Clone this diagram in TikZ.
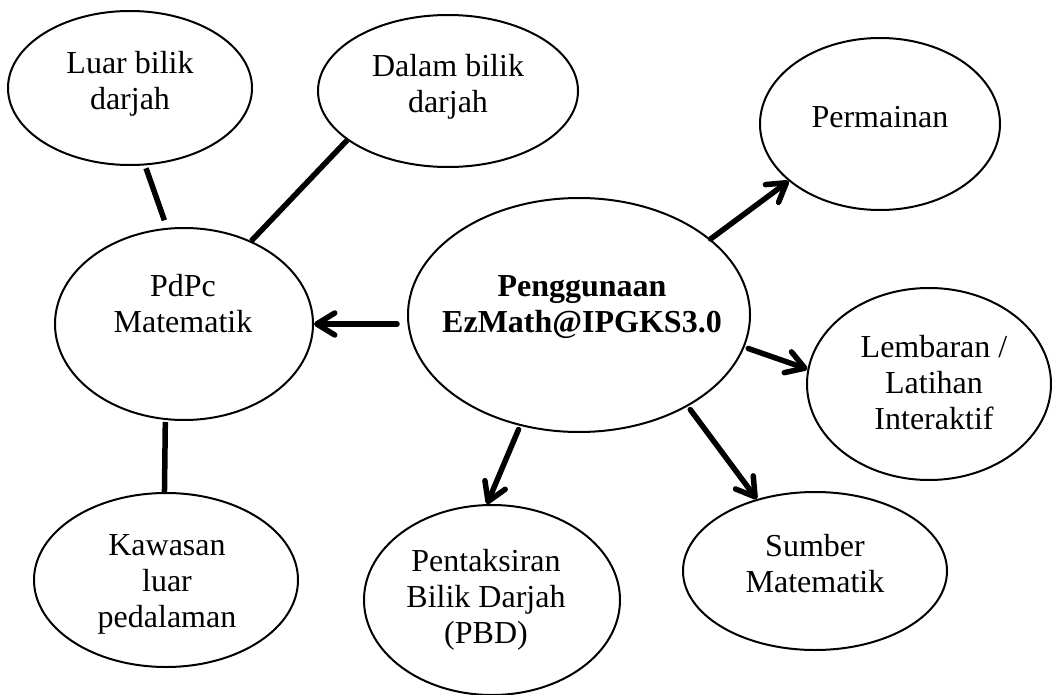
\documentclass[tikz,border=0pt]{standalone}
\usepackage{fontspec}
\setmainfont{Liberation Serif}
\usetikzlibrary{shapes.geometric,arrows.meta}
\begin{document}
\begin{tikzpicture}[x=1pt,y=-1pt,
  bub/.style={draw,ellipse,line width=2pt,inner sep=0pt},
  txt/.style={align=center,font=\fontsize{32}{36}\selectfont,inner sep=0pt},
  link/.style={line width=5.5pt},
  arr/.style={line width=5.5pt,line cap=round,-{Straight Barb[length=18pt,width=22pt,round]}}]
\useasboundingbox (0,0) rectangle (1052,695);
% ellipses
\node[bub,minimum width=244pt,minimum height=154pt] (luar) at (130,88) {};
\node[bub,minimum width=260pt,minimum height=152pt] (dalam) at (448,91) {};
\node[bub,minimum width=240pt,minimum height=172pt] (perm) at (880,124) {};
\node[bub,minimum width=258pt,minimum height=192pt] (pdpc) at (184,324) {};
\node[bub,minimum width=342pt,minimum height=234pt] (pen) at (579,315) {};
\node[bub,minimum width=244pt,minimum height=192pt] (lemb) at (929,384) {};
\node[bub,minimum width=264pt,minimum height=158pt] (sumber) at (815,571) {};
\node[bub,minimum width=256pt,minimum height=190pt] (pbd) at (492,600) {};
\node[bub,minimum width=264pt,minimum height=174pt] (kaw) at (166,580) {};
% texts
\node[txt] (tluar) at (130,84) {Luar bilik\\darjah};
\node[txt] (tdalam) at (448,87) {Dalam bilik\\darjah};
\node[txt] (tperm) at (880,117) {Permainan};
\node[txt] (tpdpc) at (183,304) {PdPc\\Matematik};
\node[txt,font=\fontsize{32}{36}\selectfont\bfseries] (tpen) at (582,307) {Penggunaan\\EzMath@IPGKS3.0};
\node[txt] (tlemb) at (934,383) {Lembaran /\\Latihan\\Interaktif};
\node[txt] (tsumber) at (815,564) {Sumber\\Matematik};
\node[txt] (tpbd) at (486,600) {Pentaksiran\\Bilik Darjah\\(PBD)};
\node[txt] (tkaw) at (167,584) {Kawasan\\luar\\pedalaman};
% connectors
\draw[link,shorten <=3pt,shorten >=8pt] (luar.-79) -- (pdpc.100);
\draw[link] (pdpc.51) -- (dalam.206);
\draw[link,shorten <=2pt] (pdpc.259) -- (kaw.91);
\draw[arr,shorten <=10pt] (pen.west |- pdpc.east) -- (pdpc.east);
\draw[arr] (pen.30) -- (perm.212);
\draw[arr,shorten <=4pt] (pen.-11) -- (lemb.173);
\draw[arr,shorten <=4pt] (pen.242) -- (pbd.93);
\draw[arr,shorten <=4pt] (pen.-40) -- (sumber.129);
\end{tikzpicture}
\end{document}
